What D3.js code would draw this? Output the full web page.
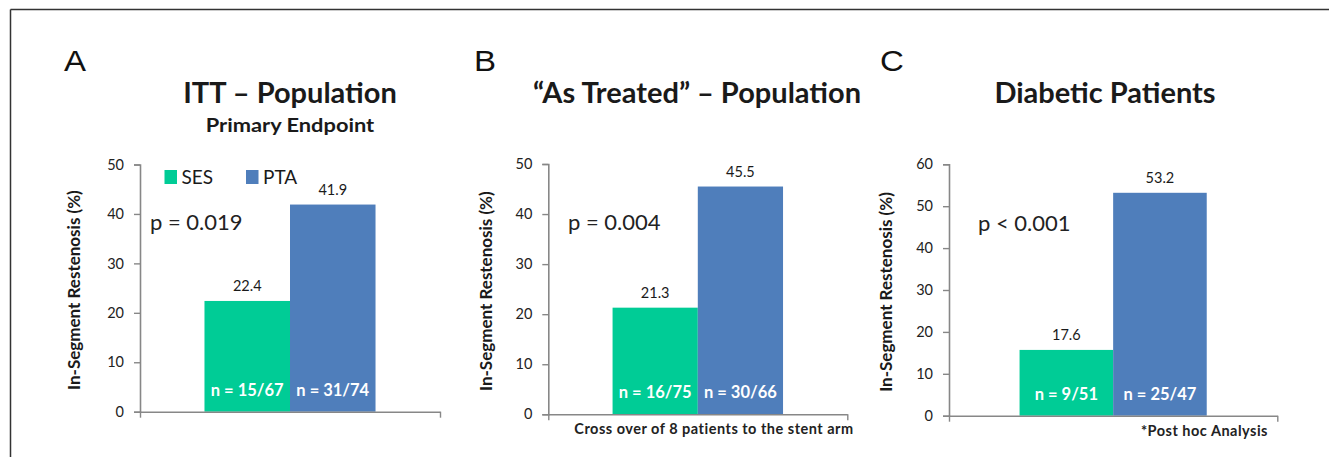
<!DOCTYPE html>
<html>
<head>
<meta charset="utf-8">
<script src="https://cdn.jsdelivr.net/npm/d3@7"></script>
<style>
  html, body { margin: 0; padding: 0; background: #fff; }
  svg { display: block; }
  text { font-family: Lato, "Open Sans", sans-serif; }
</style>
</head>
<body>
<svg id="chart" width="1329" height="457"></svg>
<script>
// ---------------- DATA ----------------
const categories = ["SES", "PTA"];
const panelLetters = ["A", "B", "C"];
const panelTitles = ["ITT \u2013 Population", "\u201CAs Treated\u201D \u2013 Population", "Diabetic Patients"];
const panelSubtitles = ["Primary Endpoint", "", ""];
const valuesA = [22.4, 41.9];
const valuesB = [21.3, 45.5];
const valuesC = [15.7, 53.2];
const valueLabelsA = ["22.4", "41.9"];
const valueLabelsB = ["21.3", "45.5"];
const valueLabelsC = ["17.6", "53.2"];
const nLabelsA = ["n = 15/67", "n = 31/74"];
const nLabelsB = ["n = 16/75", "n = 30/66"];
const nLabelsC = ["n = 9/51", "n = 25/47"];
const pLabels = ["p = 0.019", "p = 0.004", "p < 0.001"];
const yTicksA = [0, 10, 20, 30, 40, 50];
const yTicksB = [0, 10, 20, 30, 40, 50];
const yTicksC = [0, 10, 20, 30, 40, 50, 60];
const yAxisTitle = "In-Segment Restenosis (%)";
const footnotes = ["", "Cross over of 8 patients to the stent arm", "*Post hoc Analysis"];

// ---------------- LAYOUT / STYLE ----------------
const colors = { SES: "#00CC96", PTA: "#4F7EBB" };
const axisColor = "#878787";
const textColor = "#1a1a1a";

const panels = [
  { values: valuesA, vlabels: valueLabelsA, nlabels: nLabelsA, ticks: yTicksA,
    x0: 140, x1: 440, yB: 411.7, yT: 164.5,
    letterX: 64, titleX: 290, pX: 150, pY: 230, legend: true,
    ytitleX: 80, foot: null },
  { values: valuesB, vlabels: valueLabelsB, nlabels: nLabelsB, ticks: yTicksB,
    x0: 548.3, x1: 847.3, yB: 414.3, yT: 164,
    letterX: 474, titleX: 697, pX: 568, pY: 230, legend: false,
    ytitleX: 492, foot: { x: 714, y: 434, anchor: "middle" } },
  { values: valuesC, vlabels: valueLabelsC, nlabels: nLabelsC, ticks: yTicksC,
    x0: 949, x1: 1277.3, yB: 415.7, yT: 164.3,
    letterX: 880, titleX: 1105, pX: 978, pY: 231, legend: false,
    ytitleX: 892, foot: { x: 1268, y: 436, anchor: "end" } }
];

const svg = d3.select("#chart");

// frame
svg.append("line").attr("x1", 10.5).attr("y1", 9.5).attr("x2", 1329).attr("y2", 9.5)
  .attr("stroke", "#333").attr("stroke-width", 1.5);
svg.append("line").attr("x1", 10.5).attr("y1", 9.5).attr("x2", 10.5).attr("y2", 457)
  .attr("stroke", "#333").attr("stroke-width", 1.5);

panels.forEach((p, i) => {
  const g = svg.append("g");
  const yMax = p.ticks[p.ticks.length - 1];
  const y = d3.scaleLinear().domain([0, yMax]).range([p.yB, p.yT]);
  const x = d3.scaleBand().domain(categories).range([p.x0, p.x1])
    .paddingInner(0).paddingOuter(0.754);

  // letter
  g.append("text").attr("x", p.letterX).attr("y", 71)
    .style("font-family", "'Liberation Sans', Arial, sans-serif")
    .attr("font-size", 29.5).attr("fill", "#111")
    .attr("transform", `translate(${p.letterX},0) scale(1.12,1) translate(${-p.letterX},0)`)
    .text(panelLetters[i]);

  // title
  g.append("text").attr("x", p.titleX).attr("y", 102.5)
    .attr("text-anchor", "middle").attr("font-size", 29).attr("font-weight", 700)
    .attr("fill", textColor).text(panelTitles[i]);
  if (panelSubtitles[i]) {
    g.append("text").attr("x", p.titleX).attr("y", 131.7)
      .attr("text-anchor", "middle").attr("font-size", 18.5).attr("font-weight", 700)
      .attr("transform", `translate(${p.titleX},0) scale(1.18,1) translate(${-p.titleX},0)`)
      .attr("fill", textColor).text(panelSubtitles[i]);
  }

  // bars
  g.selectAll("rect.bar").data(categories).join("rect")
    .attr("class", "bar")
    .attr("x", d => x(d))
    .attr("width", x.bandwidth())
    .attr("y", (d, k) => y(p.values[k]))
    .attr("height", (d, k) => y(0) - y(p.values[k]))
    .attr("fill", d => colors[d]);

  // y axis
  const yAxis = d3.axisLeft(y).tickValues(p.ticks).tickSizeInner(6).tickSizeOuter(6).tickPadding(10);
  const ya = g.append("g").attr("transform", `translate(${p.x0},0)`).call(yAxis);
  ya.select(".domain").attr("stroke", axisColor).attr("stroke-width", 1.6);
  ya.selectAll(".tick line").attr("stroke", axisColor).attr("stroke-width", 1.4);
  ya.selectAll(".tick text").attr("fill", "#222")
    .style("font-family", "Lato, sans-serif").attr("font-size", 14.5);

  // x axis (boundary ticks)
  const xb = d3.scaleLinear().domain([0, 1]).range([p.x0, p.x1]);
  const xAxis = d3.axisBottom(xb).tickValues([0, 1]).tickFormat("").tickSizeInner(6).tickSizeOuter(0);
  const xa = g.append("g").attr("transform", `translate(0,${p.yB})`).call(xAxis);
  xa.select(".domain").attr("stroke", axisColor).attr("stroke-width", 1.6);
  xa.selectAll(".tick line").attr("stroke", axisColor).attr("stroke-width", 1.4);

  // y axis title
  const ymid = (p.yB + p.yT) / 2 + 2;
  g.append("text")
    .attr("transform", `translate(${p.ytitleX},${ymid}) rotate(-90)`)
    .attr("text-anchor", "middle").attr("font-size", 17).attr("font-weight", 700)
    .attr("fill", textColor).text(yAxisTitle);

  // value labels
  g.selectAll("text.vl").data(categories).join("text")
    .attr("class", "vl")
    .attr("x", d => x(d) + x.bandwidth() / 2)
    .attr("y", (d, k) => y(p.values[k]) - 10)
    .attr("text-anchor", "middle").attr("font-size", 14.5)
    .attr("fill", textColor).text((d, k) => p.vlabels[k]);

  // n labels
  g.selectAll("text.nl").data(categories).join("text")
    .attr("class", "nl")
    .attr("x", d => x(d) + x.bandwidth() / 2)
    .attr("y", p.yB - 16)
    .attr("text-anchor", "middle").attr("font-size", 16.5).attr("font-weight", 700)
    .attr("fill", "#fff").text((d, k) => p.nlabels[k]);

  // p label
  g.append("text").attr("x", p.pX).attr("y", p.pY)
    .attr("font-size", 22).attr("fill", "#222").text(pLabels[i]);

  // legend
  if (p.legend) {
    const lx = [164.5, 246];
    categories.forEach((c, k) => {
      g.append("rect").attr("x", lx[k]).attr("y", 170).attr("width", 12.5).attr("height", 14)
        .attr("fill", colors[c]);
      g.append("text").attr("x", lx[k] + 17).attr("y", 183.5)
        .attr("font-size", 19).attr("fill", textColor).text(c);
    });
  }

  // footnote
  if (p.foot) {
    g.append("text").attr("x", p.foot.x).attr("y", p.foot.y)
      .attr("text-anchor", p.foot.anchor).attr("font-size", 14.5).attr("font-weight", 700)
      .attr("fill", "#222").attr("letter-spacing", 0.5).text(footnotes[i]);
  }
});
</script>
</body>
</html>
